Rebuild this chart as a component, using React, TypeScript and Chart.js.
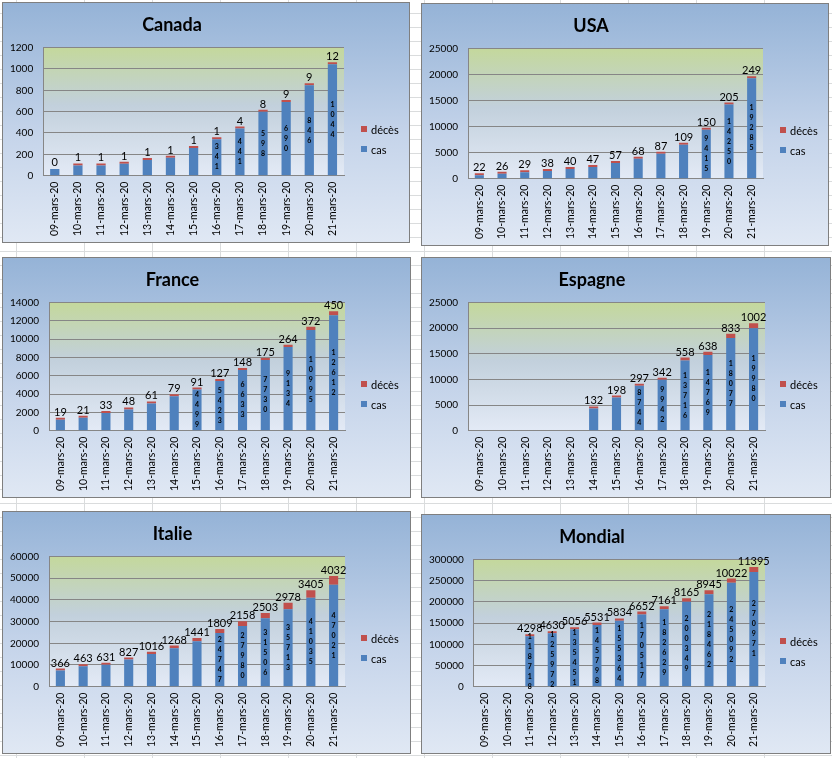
import React, { useEffect, useRef } from 'react';
import { Chart, registerables } from 'chart.js';

Chart.register(...registerables);

// categories
const dates = [
  '09-mars-20', '10-mars-20', '11-mars-20', '12-mars-20', '13-mars-20', '14-mars-20', '15-mars-20',
  '16-mars-20', '17-mars-20', '18-mars-20', '19-mars-20', '20-mars-20', '21-mars-20'
];

// series values (cas = cases, décès = deaths)
const canadaCas = [62, 96, 96, 111, 146, 168, 258, 341, 441, 598, 690, 846, 1044];
const canadaDeces = [0, 1, 1, 1, 1, 1, 1, 1, 4, 8, 9, 9, 12];

const usaCas = [650, 960, 1220, 1470, 1860, 2250, 3030, 3810, 4780, 6540, 9415, 14250, 19285];
const usaDeces = [22, 26, 29, 38, 40, 47, 57, 68, 87, 109, 150, 205, 249];

const franceCas = [1200, 1420, 1930, 2320, 2976, 3770, 4499, 5423, 6633, 7730, 9134, 10995, 12612];
const franceDeces = [19, 21, 33, 48, 61, 79, 91, 127, 148, 175, 264, 372, 450];

const espagneCas = [null, null, null, null, null, 4335, 6470, 8744, 9942, 13716, 14769, 18077, 19980];
const espagneDeces = [null, null, null, null, null, 132, 198, 297, 342, 558, 638, 833, 1002];

const italieCas = [7450, 9380, 10150, 12500, 15100, 17700, 21000, 24747, 27980, 31506, 35713, 41035, 47021];
const italieDeces = [366, 463, 631, 827, 1016, 1268, 1441, 1809, 2158, 2503, 2978, 3405, 4032];

const mondialCas = [null, null, 118718, 125972, 135451, 145798, 155364, 170517, 182629, 200349, 218462, 245092, 270971];
const mondialDeces = [null, null, 4298, 4630, 5056, 5531, 5834, 6652, 7161, 8165, 8945, 10022, 11395];

const BLUE = '#4f81bd';
const RED = '#c0504d';
const FONT = 'Lato';

// plot area gradient (green at top, pale blue at bottom)
const plotBgPlugin = {
  id: 'plotBg',
  beforeDraw(chart: any) {
    const { ctx, chartArea } = chart;
    if (!chartArea) return;
    const g = ctx.createLinearGradient(0, chartArea.top, 0, chartArea.bottom);
    g.addColorStop(0, '#c4d89c');
    g.addColorStop(0.45, '#c2d0dc');
    g.addColorStop(1, '#e3eaf6');
    ctx.save();
    ctx.fillStyle = g;
    ctx.fillRect(chartArea.left, chartArea.top, chartArea.right - chartArea.left, chartArea.bottom - chartArea.top);
    ctx.restore();
  }
};

// death count above each bar, case count as stacked digits inside the bar
const barLabelsPlugin = {
  id: 'barLabels',
  afterDatasetsDraw(chart: any, _args: any, opts: any) {
    const { ctx } = chart;
    const casMeta = chart.getDatasetMeta(0);
    const decMeta = chart.getDatasetMeta(1);
    const cas = chart.data.datasets[0].data;
    const dec = chart.data.datasets[1].data;
    ctx.save();
    ctx.fillStyle = '#000';
    ctx.textAlign = 'center';

    cas.forEach((v: number | null, i: number) => {
      if (v == null || i < opts.innerFrom) return;
      const el = casMeta.data[i];
      const digits = String(v).split('');
      const gap = 10;
      const mid = (el.y + el.base) / 2;
      const start = mid - ((digits.length - 1) * gap) / 2;
      ctx.font = `bold 7px ${FONT}`;
      ctx.textBaseline = 'middle';
      digits.forEach((d, k) => ctx.fillText(d, el.x, start + k * gap));
    });

    dec.forEach((v: number | null, i: number) => {
      if (v == null) return;
      const el = decMeta.data[i];
      const cel = casMeta.data[i];
      const top = Math.min(el.y, cel.y);
      ctx.font = `11px ${FONT}`;
      ctx.textBaseline = 'bottom';
      ctx.fillText(String(v), el.x, top);
    });
    ctx.restore();
  }
};

interface PanelProps {
  title: string;
  cas: (number | null)[];
  deces: (number | null)[];
  max: number;
  step: number;
  innerFrom: number;
  left: number;
  top: number;
  width: number;
  height: number;
}

const legendItems = [
  { label: 'décès', color: RED },
  { label: 'cas', color: BLUE }
];

const Panel: React.FC<PanelProps> = ({ title, cas, deces, max, step, innerFrom, left, top, width, height }) => {
  const canvasRef = useRef<HTMLCanvasElement | null>(null);

  useEffect(() => {
    if (!canvasRef.current) return;
    const chart = new Chart(canvasRef.current, {
      type: 'bar',
      data: {
        labels: dates,
        datasets: [
          { label: 'cas', data: cas as any, backgroundColor: BLUE, borderWidth: 0, stack: 's' },
          {
            label: 'décès',
            data: deces as any,
            backgroundColor: (c: any) => (c.raw === 0 ? 'rgba(0,0,0,0)' : RED),
            borderWidth: 0,
            stack: 's',
            minBarLength: 2
          }
        ]
      },
      options: {
        animation: false,
        responsive: true,
        maintainAspectRatio: false,
        layout: { padding: { left: -3, right: 65, bottom: 0, top: 0 } },
        datasets: { bar: { categoryPercentage: 1, barPercentage: 0.4 } },
        plugins: {
          title: {
            display: true,
            text: title,
            color: '#000',
            font: { family: FONT, size: 18, weight: 'bold' },
            padding: { top: 11, bottom: 12 }
          },
          legend: { display: false },
          tooltip: { enabled: false },
          barLabels: { innerFrom }
        } as any,
        scales: {
          x: {
            stacked: true,
            grid: { display: false, drawTicks: false },
            border: { display: true, color: '#868686' },
            ticks: {
              color: '#000',
              font: { family: FONT, size: 10.5 },
              minRotation: 90,
              maxRotation: 90,
              autoSkip: false,
              padding: 6
            }
          },
          y: {
            stacked: true,
            min: 0,
            max,
            grid: { color: '#868686', drawTicks: false },
            border: { display: true, color: '#868686' },
            ticks: {
              stepSize: step,
              color: '#000',
              font: { family: FONT, size: 10 },
              padding: 10,
              callback: (v: any) => String(v)
            }
          }
        }
      },
      plugins: [plotBgPlugin, barLabelsPlugin]
    });
    return () => chart.destroy();
  }, [title, cas, deces, max, step, innerFrom]);

  return (
    <div
      style={{
        position: 'absolute',
        left,
        top,
        width,
        height,
        boxSizing: 'border-box',
        border: '1.5px solid #7f7f7f',
        background: 'linear-gradient(to bottom, #95b3d7 0%, #c5d4ea 55%, #e0e8f4 100%)'
      }}
    >
      <canvas ref={canvasRef} />
      {legendItems.map((it, k) => (
        <div
          key={it.label}
          style={{
            position: 'absolute',
            left: 358,
            top: 119 + k * 20,
            height: 14,
            display: 'flex',
            alignItems: 'center',
            fontFamily: FONT,
            fontSize: 11,
            color: '#000',
            whiteSpace: 'nowrap'
          }}
        >
          <span style={{ display: 'inline-block', width: 6, height: 6, background: it.color, marginRight: 4 }} />
          {it.label}
        </div>
      ))}
    </div>
  );
};

const App: React.FC = () => {
  return (
    <div
      style={{
        position: 'absolute',
        left: 0,
        top: 0,
        width: 832,
        height: 758,
        overflow: 'hidden',
        backgroundColor: '#fff',
        backgroundImage:
          'repeating-linear-gradient(to right, transparent 0px, transparent 16px, #dadcdd 16px, #dadcdd 17px, transparent 17px, transparent 68px),' +
          'repeating-linear-gradient(to bottom, transparent 0px, transparent 13px, #dadcdd 13px, #dadcdd 14px)'
      }}
    >
      <Panel title="Canada" cas={canadaCas} deces={canadaDeces} max={1200} step={200} innerFrom={7}
        left={2} top={2} width={408} height={241} />
      <Panel title="USA" cas={usaCas} deces={usaDeces} max={25000} step={5000} innerFrom={10}
        left={421} top={3} width={408} height={243} />
      <Panel title="France" cas={franceCas} deces={franceDeces} max={14000} step={2000} innerFrom={6}
        left={2} top={257} width={409} height={241} />
      <Panel title="Espagne" cas={espagneCas} deces={espagneDeces} max={25000} step={5000} innerFrom={7}
        left={421} top={257} width={410} height={241} />
      <Panel title="Italie" cas={italieCas} deces={italieDeces} max={60000} step={10000} innerFrom={7}
        left={2} top={511} width={409} height={243} />
      <Panel title="Mondial" cas={mondialCas} deces={mondialDeces} max={300000} step={50000} innerFrom={2}
        left={421} top={514} width={410} height={240} />
    </div>
  );
};

export default App;
